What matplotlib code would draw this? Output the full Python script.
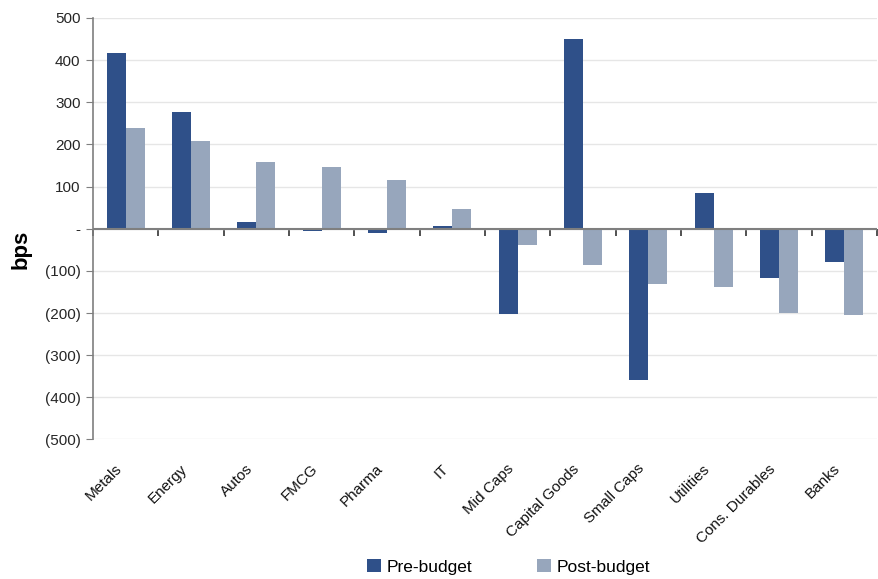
import numpy as np
import matplotlib
matplotlib.use("Agg")
from matplotlib import pyplot as plt
from matplotlib.transforms import ScaledTranslation
from matplotlib.ticker import FuncFormatter

plt.rcParams["font.family"] = ["Liberation Sans", "DejaVu Sans"]

sectors = ["Metals", "Energy", "Autos", "FMCG", "Pharma", "IT", "Mid Caps",
           "Capital Goods", "Small Caps", "Utilities", "Cons. Durables", "Banks"]
pre_budget = [418, 278, 17, -6, -11, 7, -202, 449, -360, 84, -116, -80]
post_budget = [238, 209, 159, 147, 116, 47, -38, -87, -130, -139, -199, -204]

DARK = "#2f5089"
LIGHT = "#97a6bc"
AXIS = "#7f7f7f"


def bps_fmt(v, pos):
    if abs(v) < 1e-9:
        return "-"
    if v < 0:
        return f"({abs(v):.0f})"
    return f"{v:.0f}"


fig = plt.figure(figsize=(8.79, 5.79), dpi=100)
ax = fig.add_axes([0.1058, 0.241, 0.892, 0.728])

x = np.arange(len(sectors))
w = 0.29
ax.bar(x - w / 2, pre_budget, w, color=DARK, label="Pre-budget", zorder=3)
ax.bar(x + w / 2, post_budget, w, color=LIGHT, label="Post-budget", zorder=3)

ax.set_xlim(-0.5, len(sectors) - 0.5)
ax.set_ylim(-500, 500)
ax.set_yticks(np.arange(-500, 501, 100))
ax.yaxis.set_major_formatter(FuncFormatter(bps_fmt))
ax.grid(axis="y", color="#e6e6e6", lw=1, zorder=0)

for s in ["top", "right", "bottom"]:
    ax.spines[s].set_visible(False)
ax.spines["left"].set_color(AXIS)
ax.spines["left"].set_linewidth(1.2)
ax.tick_params(axis="y", direction="out", length=5, color=AXIS,
               labelsize=11, labelcolor="#262626", pad=4)

# category labels sit under the plot area
ax.set_xticks(x)
ax.set_xticklabels(sectors, rotation=45, ha="right", rotation_mode="anchor",
                   fontsize=11, color="#111111")
ax.tick_params(axis="x", length=0, pad=16)
shift = ScaledTranslation(-8 / 72, 0, fig.dpi_scale_trans)
for lbl in ax.get_xticklabels():
    lbl.set_transform(lbl.get_transform() + shift)

# zero axis with ticks at category boundaries
ax.axhline(0, color=AXIS, lw=1.5, zorder=4)
zero_ax = ax.secondary_xaxis(0.5)
zero_ax.set_xticks(np.arange(-0.5, len(sectors), 1.0))
zero_ax.set_xticklabels([])
zero_ax.xaxis.set_ticks_position("bottom")
for s in zero_ax.spines.values():
    s.set_visible(False)
zero_ax.tick_params(axis="x", direction="out", length=5, color="#333333", width=1.2)

ax.set_ylabel("bps", fontsize=16, fontweight="bold")
ax.yaxis.set_label_coords(-0.078, 0.45)

ax.legend(loc="lower center", bbox_to_anchor=(0.53, -0.358), ncol=2, frameon=False,
          fontsize=12.5, handlelength=0.8, handleheight=0.8, handletextpad=0.35,
          columnspacing=3.7)

plt.savefig("out.png", dpi=100)
